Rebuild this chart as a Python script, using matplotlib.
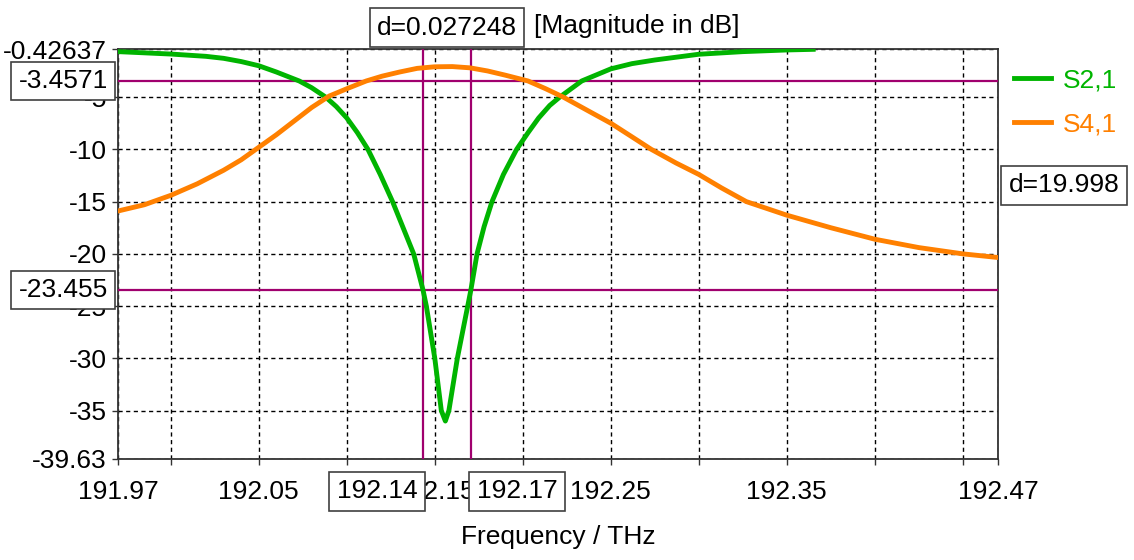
import matplotlib
matplotlib.use('Agg')
import matplotlib.pyplot as plt
import matplotlib.transforms as mtransforms

# S-parameter magnitudes (dB) vs frequency (THz)
freq_s21 = [191.97, 192.0, 192.02, 192.03, 192.04, 192.05, 192.06, 192.073,
            192.08, 192.088, 192.094, 192.1, 192.106, 192.112, 192.119, 192.126,
            192.132, 192.138, 192.1433, 192.1452, 192.15, 192.1537, 192.156,
            192.158, 192.1628, 192.1687, 192.1705, 192.174, 192.178, 192.1825,
            192.189, 192.1965, 192.203, 192.209, 192.2153, 192.221, 192.2335,
            192.25, 192.262, 192.275, 192.3, 192.325, 192.35, 192.365]
s21_db = [-0.65, -0.88, -1.1, -1.29, -1.6, -2.0, -2.6, -3.46,
          -4.1, -5.0, -5.9, -7.0, -8.4, -10.0, -12.4, -15.0,
          -17.5, -20.0, -23.455, -25.0, -30.0, -35.0, -36.0,
          -35.0, -30.0, -25.0, -23.455, -20.0, -17.4, -15.0,
          -12.4, -10.0, -8.4, -7.0, -5.8, -5.0, -3.457,
          -2.3, -1.8, -1.45, -0.9, -0.65, -0.49, -0.43]

freq_s41 = [191.97, 191.985, 192.0, 192.015, 192.03, 192.04, 192.05, 192.06,
            192.07, 192.08, 192.09, 192.1, 192.111, 192.12, 192.13, 192.14,
            192.15, 192.16, 192.17, 192.18, 192.19, 192.203, 192.213, 192.223,
            192.237, 192.25, 192.262, 192.273, 192.287, 192.3, 192.313, 192.327,
            192.35, 192.375, 192.4, 192.425, 192.45, 192.47]
s41_db = [-15.9, -15.3, -14.4, -13.3, -12.0, -11.0, -9.8, -8.6,
          -7.3, -6.0, -4.9, -4.2, -3.46, -3.0, -2.6, -2.25,
          -2.1, -2.08, -2.2, -2.5, -2.9, -3.46, -4.2, -5.0,
          -6.3, -7.5, -8.8, -10.0, -11.3, -12.4, -13.7, -15.0,
          -16.3, -17.5, -18.6, -19.4, -20.0, -20.35]

x_min, x_max = 191.97, 192.47
y_min, y_max = -39.63, -0.42637

xticks = [191.97, 192.0, 192.05, 192.1, 192.15, 192.2, 192.25, 192.3, 192.35, 192.4, 192.45, 192.47]
xtick_labels = ['191.97', '', '192.05', '', '192.15', '', '192.25', '', '192.35', '', '', '192.47']
yticks = [-0.42637, -5, -10, -15, -20, -25, -30, -35, -39.63]
ytick_labels = ['-0.42637', '-5', '-10', '-15', '-20', '-25', '-30', '-35', '-39.63']

# marker positions
mk_f1 = 192.1433
mk_df = 0.027248
mk_f2 = mk_f1 + mk_df
mk_y1 = -3.4571
mk_y2 = -23.455

plt.rcParams['font.family'] = ['Liberation Sans', 'DejaVu Sans']
fs = 19

green = '#00B400'
orange = '#FF8000'
marker_col = '#A0006E'

fig = plt.figure(figsize=(11.34, 5.6), dpi=100)
ax = fig.add_axes([118 / 1134, 1 - 459 / 560, 880 / 1134, 409.7 / 560])

ax.plot(freq_s21, s21_db, color=green, lw=3.5, label='S2,1', zorder=4, solid_joinstyle='round')
ax.plot(freq_s41, s41_db, color=orange, lw=3.5, label='S4,1', zorder=4, solid_joinstyle='round')

ax.set_xlim(x_min, x_max)
ax.set_ylim(y_min, y_max)
ax.set_xticks(xticks)
ax.set_xticklabels(xtick_labels, fontsize=fs)
ax.set_yticks(yticks)
ax.set_yticklabels(ytick_labels, fontsize=fs)
ax.tick_params(axis='both', direction='out', length=4, width=1, color='#333333')
ax.tick_params(axis='x', pad=11)
ax.tick_params(axis='y', pad=4)
ax.grid(True, color='black', lw=1, linestyle=(0, (3, 2.5)), zorder=1)
ax.set_axisbelow(True)
for sp in ax.spines.values():
    sp.set_color('#333333')
    sp.set_linewidth(1.3)

ax.set_xlabel('Frequency / THz', fontsize=fs, labelpad=15)

# markers
for f in (mk_f1, mk_f2):
    ax.axvline(f, color=marker_col, lw=1.6, zorder=3)
for yv in (mk_y1, mk_y2):
    ax.axhline(yv, color=marker_col, lw=1.6, zorder=3)

box = dict(boxstyle='square,pad=0.28', facecolor='white', edgecolor='#404040', lw=1.2)
xax = mtransforms.blended_transform_factory(ax.transData, ax.transAxes)
yax = mtransforms.blended_transform_factory(ax.transAxes, ax.transData)


def marker_label(txt, xy, trans, dx, ha):
    ax.annotate(txt, xy=xy, xycoords=trans, xytext=(dx, 0), textcoords='offset points',
                ha=ha, va='center', fontsize=fs, bbox=box, annotation_clip=False, zorder=10)


marker_label(f'{mk_f1:.2f}', (mk_f1, -0.079), xax, -4, 'right')
marker_label(f'{mk_f2:.2f}', (mk_f2, -0.079), xax, 4, 'left')
marker_label(f'{mk_y1:.4f}', (0, mk_y1), yax, -7.2, 'right')
marker_label(f'{mk_y2:.3f}', (0, mk_y2), yax, -7.2, 'right')
marker_label(f'd={mk_y1 - mk_y2:.3f}', (1, (mk_y1 + mk_y2) / 2), yax, 7.5, 'left')
marker_label(f'd={mk_df:.6f}', ((mk_f1 + mk_f2) / 2, 1.053), xax, 0, 'center')
ax.text(192.2062, 1.056, '[Magnitude in dB]', transform=xax, ha='left', va='center',
        fontsize=fs, clip_on=False)

leg = ax.legend(loc='center left', bbox_to_anchor=(1.018, 0.87), frameon=False,
                fontsize=fs, handlelength=1.4, handletextpad=0.45, labelspacing=0.75,
                labelcolor='linecolor', borderpad=0, borderaxespad=0)
for h in leg.get_lines():
    h.set_linewidth(3.5)

fig.savefig('out.png', dpi=100)
